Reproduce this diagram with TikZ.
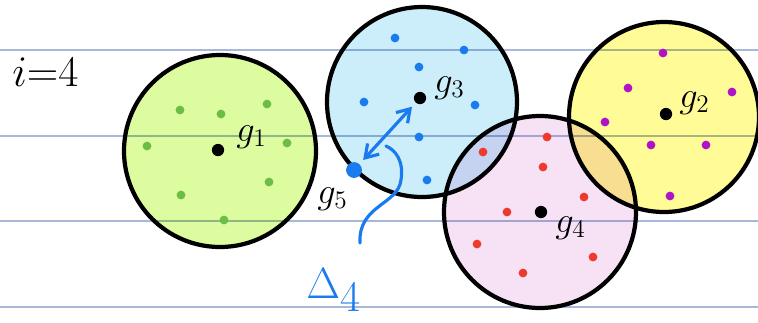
\documentclass[tikz,border=0pt]{standalone}
\usetikzlibrary{arrows.meta}
\definecolor{ruled}{HTML}{A8B8D8}
\definecolor{gfill}{HTML}{DDFB9F}\definecolor{gdot}{HTML}{6BBE45}
\definecolor{bfill}{HTML}{CCEEFA}\definecolor{bdot}{HTML}{1A7BEF}
\definecolor{pfill}{HTML}{F7E2F5}\definecolor{pdot}{HTML}{EE3A2E}
\definecolor{yfill}{HTML}{FFFB96}\definecolor{ydot}{HTML}{B012C9}
\tikzset{
  ruleline/.style={ruled, line width=0.8pt},
  cluster/.style={draw=black, line width=2.4pt},
  centre/.style={circle, fill=black, inner sep=0pt, minimum size=7pt},
  pt/.style={circle, fill=#1, inner sep=0pt, minimum size=5pt},
  lbl/.style={font=\fontsize{22}{24}\selectfont, inner sep=0pt},
  hand/.style={bdot, line width=1.8pt, line cap=round}
}
\begin{document}
\begin{tikzpicture}[x=0.02cm, y=-0.02cm]
\useasboundingbox (0,0) rectangle (758,322);
% ruled lines
\foreach \yy in {50,136,221,307} \draw[ruleline] (0,\yy) -- (758,\yy);
% fills
\begin{scope}[blend mode=multiply]
\fill[gfill] (220,151) circle (96);
\fill[bfill] (422,102) circle (95);
\fill[pfill] (540,212) circle (96);
\fill[yfill] (664,117) circle (95);
\end{scope}
% outlines
\draw[cluster] (220,151) circle (96);
\draw[cluster] (422,102) circle (95);
\draw[cluster] (540,212) circle (96);
\draw[cluster] (664,117) circle (95);
% green points
\foreach \p in {(180,110),(221,114),(267,104),(147,146),(287,143),(181,195),(269,182),(224,220)}
  \node[pt=gdot] at \p {};
% blue points
\foreach \p in {(395,38),(464,50),(419,67),(475,105),(419,137),(427,180),(364,102)}
  \node[pt=bdot] at \p {};
% red points
\foreach \p in {(547,137),(483,152),(543,167),(584,197),(507,212),(477,244),(593,257),(523,273)}
  \node[pt=pdot] at \p {};
% purple points
\foreach \p in {(663,53),(628,88),(732,92),(605,122),(651,145),(706,145),(670,196)}
  \node[pt=ydot] at \p {};
% centres
\node[centre] (g1) at (218,150) {};
\node[centre] (g3) at (420,98) {};
\node[centre] (g4) at (541,212) {};
\node[centre] (g2) at (666,114) {};
\node[circle, fill=bdot, inner sep=0pt, minimum size=9pt] (g5) at (354,170) {};
% labels
\node[lbl, anchor=base west] (l1) at (236,141) {$g_1$};
\node[lbl, anchor=base west] (l3) at (434,92) {$g_3$};
\node[lbl, anchor=base west] (l2) at (679,107) {$g_2$};
\node[lbl, anchor=base west] (l4) at (555,232) {$g_4$};
\node[lbl, anchor=base west] (l5) at (317,203) {$g_5$};
\node[font=\fontsize{30}{32}\selectfont, inner sep=0pt, anchor=base west] (iv) at (12,86) {$i{=}4$};
\node[font=\fontsize{38}{40}\selectfont, inner sep=0pt, anchor=base west, text=bdot] (delta) at (306,298) {$\Delta_{4}$};
% double arrow
\draw[hand, {Straight Barb[length=7pt,width=9pt]}-{Straight Barb[length=7pt,width=9pt]}, shorten <=3pt, shorten >=3pt] (g5) -- (g3);
% pointer curve
\coordinate (cs) at (360,243);
\coordinate (ce) at (386,146);
\draw[hand] (cs) .. controls (358,205) and (398,205) .. (401,180) .. controls (404,160) and (395,150) .. (ce);
\end{tikzpicture}
\end{document}
